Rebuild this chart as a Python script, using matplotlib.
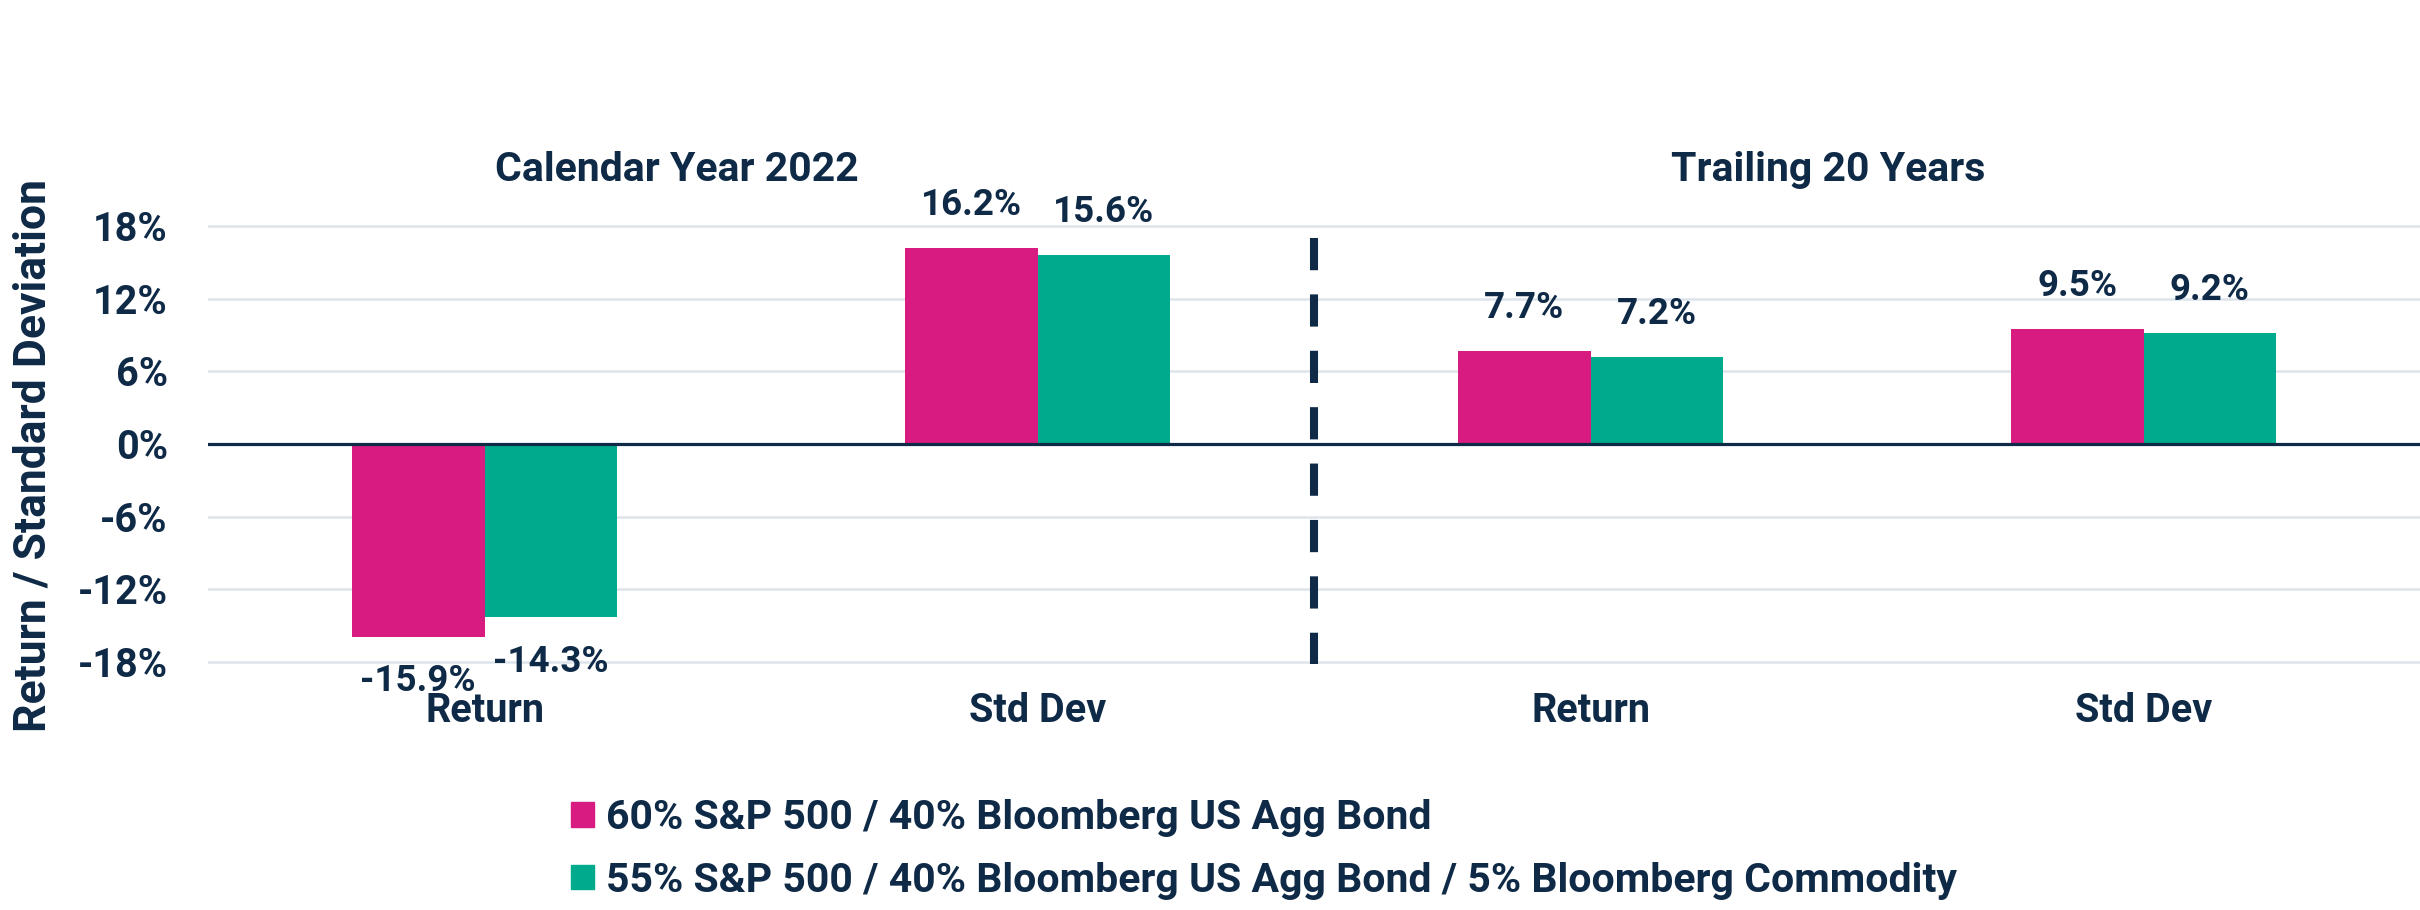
import matplotlib
matplotlib.use("Agg")
import matplotlib.pyplot as plt
from matplotlib.patches import Patch
import numpy as np

# data
categories = ["Return", "Std Dev", "Return", "Std Dev"]
groups = ["Calendar Year 2022", "Trailing 20 Years"]
series_names = ["60% S&P 500 / 40% Bloomberg US Agg Bond",
                "55% S&P 500 / 40% Bloomberg US Agg Bond / 5% Bloomberg Commodity"]
pct_60_40 = [-15.9, 16.2, 7.7, 9.5]
pct_55_40_5 = [-14.3, 15.6, 7.2, 9.2]
yticks = [-18, -12, -6, 0, 6, 12, 18]

navy = "#0f2a47"
pink = "#d81b80"
green = "#00aa8c"
grid_c = "#dde4ec"

plt.rcParams['font.family'] = ['Roboto', 'DejaVu Sans']
plt.rcParams['font.weight'] = 'bold'

fig = plt.figure(figsize=(24.2, 9.1), dpi=100)
ax = fig.add_axes([0.086, 0.2659, 0.914, 0.4923])

x = np.arange(len(categories))
w = 0.24
ax.bar(x - w/2, pct_60_40, w, color=pink, zorder=3)
ax.bar(x + w/2, pct_55_40_5, w, color=green, zorder=3)

for xs, vals in [(x - w/2, pct_60_40), (x + w/2, pct_55_40_5)]:
    for xi, v in zip(xs, vals):
        off = 31 if v >= 0 else -32
        ax.annotate(f"{v:.1f}%", (xi, v), xytext=(0, off), textcoords="offset points",
                    ha="center", va="center", fontsize=26.5, color=navy, fontweight="bold")

ax.set_xlim(-0.5, 3.5)
ax.set_ylim(-18.5, 18.5)
ax.set_yticks(yticks)
ax.set_yticklabels([f"{t}%" for t in yticks])
ax.set_xticks(x)
ax.set_xticklabels(categories)
ax.tick_params(axis="y", length=0, pad=29, labelsize=28.5, labelcolor=navy)
ax.tick_params(axis="x", length=0, pad=17, labelsize=28.5, labelcolor=navy)
for s in ax.spines.values():
    s.set_visible(False)
ax.grid(axis="y", color=grid_c, linewidth=1.8, zorder=0)
ax.axhline(0, color=navy, linewidth=2.3, zorder=4)

# divider between the two periods
ax.plot([1.5, 1.5], [17.0, -18.2], color=navy, linewidth=5.8, dashes=(4, 3),
        solid_capstyle="butt", dash_capstyle="butt", zorder=4)

# group titles
ax.text(0.347, 22.6, groups[0], ha="center", va="center", fontsize=29.5, color=navy,
        fontweight="bold")
ax.text(2.43, 22.6, groups[1], ha="center", va="center", fontsize=29.5, color=navy,
        fontweight="bold")

fig.text(0.014, 0.5, "Return / Standard Deviation", rotation=90, ha="center", va="center",
         fontsize=32, color=navy, fontweight="bold")

handles = [Patch(color=pink), Patch(color=green)]
leg = fig.legend(handles, series_names, loc="upper left", bbox_to_anchor=(0.236, 0.122),
                 frameon=False, fontsize=29.5, handlelength=0.55, handleheight=0.55,
                 handletextpad=0.3, labelspacing=0.6, borderaxespad=0, borderpad=0)
for t in leg.get_texts():
    t.set_color(navy)

fig.savefig("out.png", dpi=100)
